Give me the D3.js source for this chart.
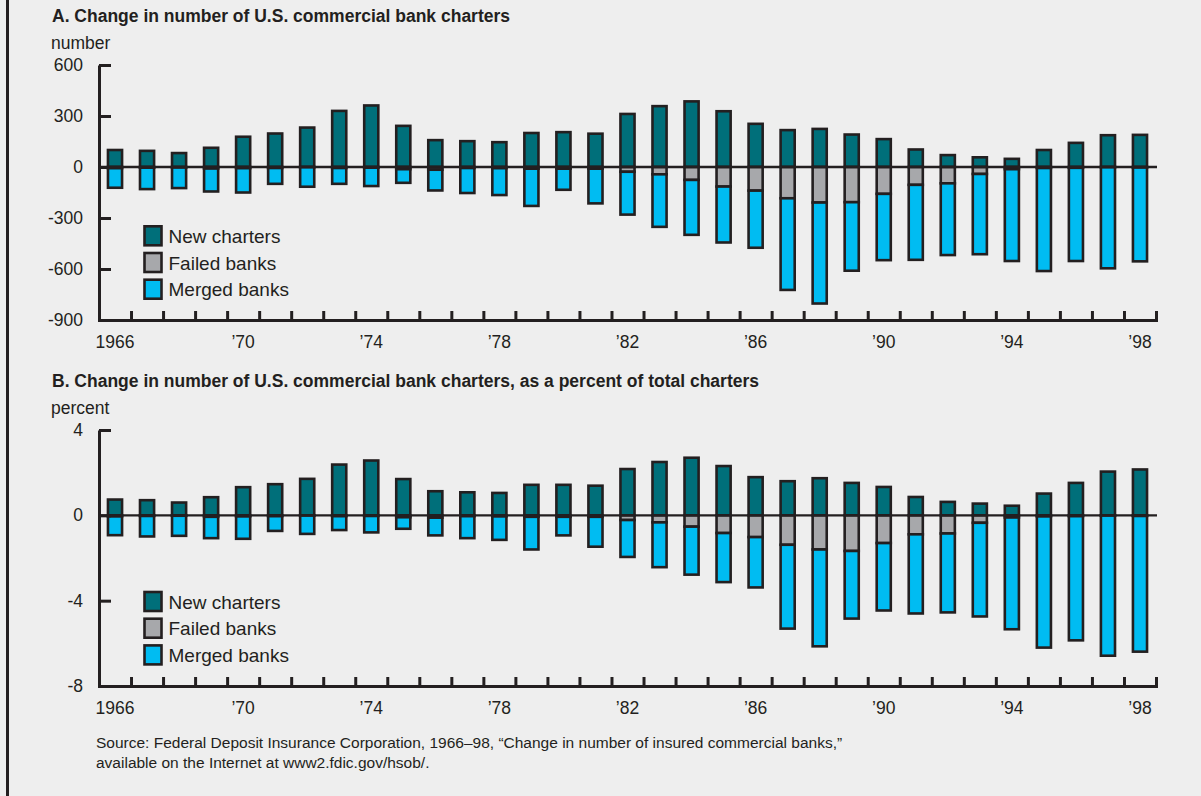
<!DOCTYPE html>
<html>
<head>
<meta charset="utf-8">
<script src="https://cdn.jsdelivr.net/npm/d3@7/dist/d3.min.js"></script>
<style>
  body { margin: 0; background: #eeeeee; }
  svg { display: block; }
  text { fill: #231f20; font-family: "Liberation Sans", Arial, sans-serif; }
</style>
</head>
<body>
<svg id="chart" width="1201" height="796"></svg>
<script>
const YEARS = [1966, 1967, 1968, 1969, 1970, 1971, 1972, 1973, 1974, 1975, 1976,
  1977, 1978, 1979, 1980, 1981, 1982, 1983, 1984, 1985, 1986, 1987, 1988,
  1989, 1990, 1991, 1992, 1993, 1994, 1995, 1996, 1997, 1998];
const LABEL_YEARS = [1966, 1970, 1974, 1978, 1982, 1986, 1990, 1994, 1998];

// panel A: number of charters
const NEW_A = [100, 95, 82, 113, 178, 197, 232, 330, 362, 242, 158, 152, 146, 200, 205, 196,
  312, 358, 386, 328, 254, 217, 224, 191, 164, 103, 70, 57, 48, 100, 142, 187, 189];
const FAILED_A = [7, 4, 3, 9, 7, 6, 1, 6, 4, 13, 16, 6, 7, 10, 10, 10,
  28, 43, 76, 115, 139, 184, 209, 207, 158, 105, 96, 41, 13, 6, 5, 1, 3];
const MERGED_A = [115, 126, 121, 135, 143, 93, 115, 93, 108, 80, 122, 147, 158, 219, 124, 204,
  252, 309, 323, 329, 336, 539, 594, 403, 390, 441, 422, 472, 540, 606, 548, 595, 552];
const TICKS_A = [600, 300, 0, -300, -600, -900];

// panel B: percent of total charters
const NEW_B = [0.74, 0.71, 0.6, 0.85, 1.32, 1.46, 1.71, 2.38, 2.57, 1.7, 1.13, 1.08, 1.05, 1.43, 1.43, 1.39,
  2.17, 2.5, 2.7, 2.31, 1.79, 1.6, 1.74, 1.52, 1.33, 0.86, 0.63, 0.55, 0.45, 1.02, 1.52, 2.05, 2.15];
const FAILED_B = [0.05, 0.03, 0.02, 0.07, 0.05, 0.04, 0.01, 0.04, 0.03, 0.09, 0.11, 0.04, 0.05, 0.07, 0.07, 0.07,
  0.22, 0.33, 0.53, 0.83, 1.02, 1.38, 1.6, 1.67, 1.3, 0.89, 0.85, 0.35, 0.1, 0.05, 0.04, 0.01, 0.03];
const MERGED_B = [0.88, 0.96, 0.94, 1.0, 1.05, 0.69, 0.86, 0.65, 0.77, 0.54, 0.83, 1.03, 1.1, 1.53, 0.87, 1.4,
  1.73, 2.1, 2.25, 2.3, 2.36, 3.93, 4.54, 3.17, 3.16, 3.71, 3.7, 4.39, 5.24, 6.15, 5.82, 6.57, 6.36];
const TICKS_B = [4, 0, -4, -8];

const SERIES = ['New charters', 'Failed banks', 'Merged banks'];
const COLORS = ['#006f7a', '#a7a8ab', '#00bcf2'];
const INK = '#231f20';

const svg = d3.select('#chart');

// left frame rule
svg.append('line')
  .attr('x1', 7.5).attr('x2', 7.5)
  .attr('y1', 0).attr('y2', 796)
  .attr('stroke', INK).attr('stroke-width', 3);

function drawPanel(opts) {
  const g = svg.append('g');

  const x = d3.scaleBand()
    .domain(YEARS)
    .range([99, 1156])
    .paddingInner(0.56)
    .paddingOuter(0.28);

  const xi = d3.scaleLinear()
    .domain([0, YEARS.length])
    .range([99, 1156]);

  const y = d3.scaleLinear()
    .domain(opts.domain)
    .range([opts.bottom, opts.top]);

  g.append('text')
    .attr('x', 52).attr('y', opts.top - 43)
    .style('font-size', '17.5px')
    .style('font-weight', 'bold')
    .text(opts.title);

  g.append('text')
    .attr('x', 51).attr('y', opts.top - 16.5)
    .style('font-size', '17.5px')
    .text(opts.unit);

  // bars
  const rows = YEARS.map((yr, i) => ({
    year: yr,
    n: opts.newVals[i],
    f: opts.failedVals[i],
    m: opts.mergedVals[i]
  }));

  const bars = g.append('g')
    .attr('stroke', INK)
    .attr('stroke-width', 2.6);

  bars.selectAll('rect.new')
    .data(rows)
    .join('rect')
    .attr('class', 'new')
    .attr('x', d => x(d.year))
    .attr('width', x.bandwidth())
    .attr('y', d => y(d.n))
    .attr('height', d => y(0) - y(d.n))
    .attr('fill', COLORS[0]);

  bars.selectAll('rect.failed')
    .data(rows)
    .join('rect')
    .attr('class', 'failed')
    .attr('x', d => x(d.year))
    .attr('width', x.bandwidth())
    .attr('y', y(0))
    .attr('height', d => y(-d.f) - y(0))
    .attr('fill', COLORS[1]);

  bars.selectAll('rect.merged')
    .data(rows)
    .join('rect')
    .attr('class', 'merged')
    .attr('x', d => x(d.year))
    .attr('width', x.bandwidth())
    .attr('y', d => y(-d.f))
    .attr('height', d => y(-d.f - d.m) - y(-d.f))
    .attr('fill', COLORS[2]);

  // zero line
  g.append('line')
    .attr('x1', 99).attr('x2', 1157)
    .attr('y1', y(0)).attr('y2', y(0))
    .attr('stroke', INK).attr('stroke-width', 2.4);

  // y axis
  const yAxis = g.append('g')
    .attr('transform', 'translate(99,0)')
    .call(d3.axisLeft(y)
      .tickValues(opts.ticks)
      .tickSizeInner(-12)
      .tickSizeOuter(0)
      .tickPadding(16)
      .tickFormat(d => d < 0 ? '-' + Math.abs(d) : String(d)));
  yAxis.selectAll('path, line').attr('stroke', INK).attr('stroke-width', 3);
  yAxis.selectAll('text')
    .attr('fill', INK)
    .style('font-size', '17.5px')
    .style('font-family', '"Liberation Sans", Arial, sans-serif');

  // x axis with slot-boundary ticks
  const xAxis = g.append('g')
    .attr('transform', `translate(0,${opts.bottom})`)
    .call(d3.axisBottom(xi)
      .tickValues(d3.range(1, YEARS.length + 1))
      .tickSizeInner(-9)
      .tickSizeOuter(0)
      .tickFormat(''));
  xAxis.selectAll('path, line').attr('stroke', INK).attr('stroke-width', 3);
  xAxis.select('path').attr('stroke-linecap', 'square');

  // year labels under the bars
  const xLabels = g.append('g')
    .attr('transform', `translate(0,${opts.bottom})`)
    .call(d3.axisBottom(x)
      .tickValues(LABEL_YEARS)
      .tickSize(0)
      .tickPadding(16)
      .tickFormat(d => d === 1966 ? '1966' : '\u2019' + String(d).slice(2)));
  xLabels.select('.domain').remove();
  xLabels.selectAll('text')
    .attr('fill', INK)
    .style('font-size', '17.5px')
    .style('font-family', '"Liberation Sans", Arial, sans-serif');

  // legend
  const legend = g.append('g')
    .attr('transform', `translate(144.5,${opts.legendTop})`);
  const item = legend.selectAll('g')
    .data(SERIES)
    .join('g')
    .attr('transform', (d, i) => `translate(0,${i * 26.7})`);
  item.append('rect')
    .attr('width', 17).attr('height', 19)
    .attr('fill', (d, i) => COLORS[i])
    .attr('stroke', INK).attr('stroke-width', 2.6);
  item.append('text')
    .attr('x', 24).attr('y', 16.5)
    .style('font-size', '19px')
    .text(d => d);
}

drawPanel({
  title: 'A. Change in number of U.S. commercial bank charters',
  unit: 'number',
  domain: [-900, 600],
  ticks: TICKS_A,
  top: 65,
  bottom: 320,
  legendTop: 226.3,
  newVals: NEW_A,
  failedVals: FAILED_A,
  mergedVals: MERGED_A
});

drawPanel({
  title: 'B. Change in number of U.S. commercial bank charters, as a percent of total charters',
  unit: 'percent',
  domain: [-8, 4],
  ticks: TICKS_B,
  top: 430,
  bottom: 686,
  legendTop: 592,
  newVals: NEW_B,
  failedVals: FAILED_B,
  mergedVals: MERGED_B
});

// source note
const note = svg.append('text')
  .attr('x', 96)
  .attr('y', 748)
  .style('font-size', '15.5px');
note.append('tspan')
  .attr('x', 96)
  .text('Source: Federal Deposit Insurance Corporation, 1966\u201398, \u201cChange in number of insured commercial banks,\u201d');
note.append('tspan')
  .attr('x', 96).attr('dy', 20)
  .text('available on the Internet at www2.fdic.gov/hsob/.');
</script>
</body>
</html>
